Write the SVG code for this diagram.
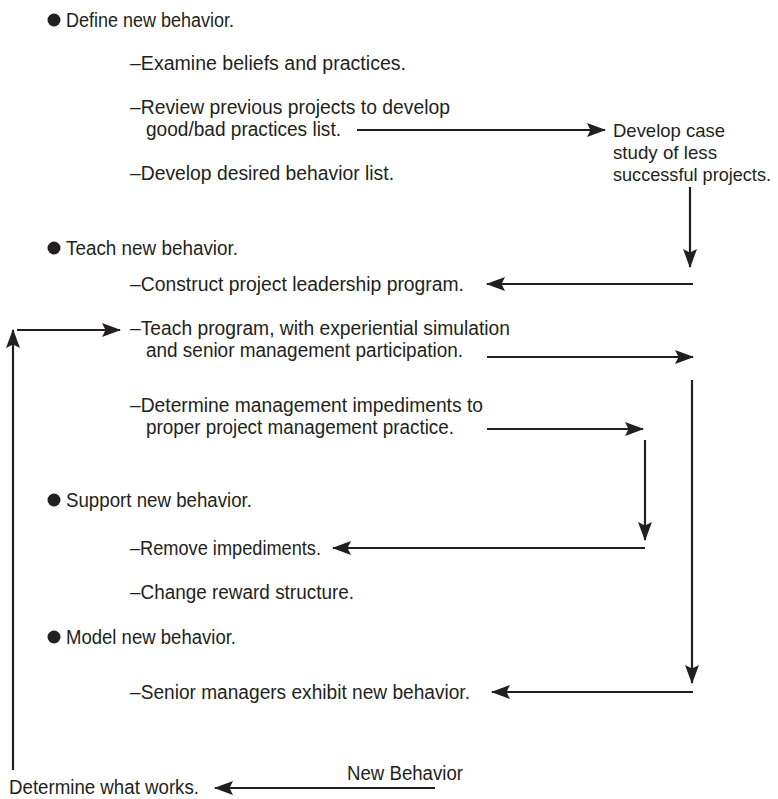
<svg xmlns="http://www.w3.org/2000/svg" width="778" height="799" viewBox="0 0 778 799">
<style>
text{font-family:"Liberation Sans",Arial,sans-serif;font-size:19.5px;fill:#231f20}
.r{font-size:18.4px}
.b{fill:#231f20}
.c line{stroke:#231f20;stroke-width:2.2;marker-end:url(#ah)}
</style>
<defs>
<marker id="ah" markerUnits="userSpaceOnUse" markerWidth="20" markerHeight="16" refX="18" refY="7" orient="auto" viewBox="0 0 20 16">
<path d="M0,0 L19,7 L0,14 L3.5,7 z" fill="#231f20"/>
</marker>
</defs>
<rect width="778" height="799" fill="#fff"/>
<g id="define"><circle class="b" cx="54" cy="20" r="6.5"/><text x="66" y="27" textLength="168" lengthAdjust="spacingAndGlyphs">Define new behavior.</text></g>
<g id="examine"><text x="130" y="70" textLength="276" lengthAdjust="spacingAndGlyphs">–Examine beliefs and practices.</text></g>
<g id="review"><text x="130" y="114" textLength="320" lengthAdjust="spacingAndGlyphs">–Review previous projects to develop</text><text x="146" y="136" textLength="195" lengthAdjust="spacingAndGlyphs">good/bad practices list.</text></g>
<g id="casestudy"><text class="r" x="613" y="137" textLength="112" lengthAdjust="spacingAndGlyphs">Develop case</text><text class="r" x="613" y="159" textLength="104" lengthAdjust="spacingAndGlyphs">study of less</text><text class="r" x="613" y="181" textLength="158" lengthAdjust="spacingAndGlyphs">successful projects.</text></g>
<g id="desired"><text x="130" y="180" textLength="264" lengthAdjust="spacingAndGlyphs">–Develop desired behavior list.</text></g>
<g id="teach"><circle class="b" cx="54" cy="248" r="6.5"/><text x="66" y="255" textLength="172" lengthAdjust="spacingAndGlyphs">Teach new behavior.</text></g>
<g id="construct"><text x="130" y="291" textLength="334" lengthAdjust="spacingAndGlyphs">–Construct project leadership program.</text></g>
<g id="program"><text x="130" y="335" textLength="380" lengthAdjust="spacingAndGlyphs">–Teach program, with experiential simulation</text><text x="146" y="357" textLength="317" lengthAdjust="spacingAndGlyphs">and senior management participation.</text></g>
<g id="impediments"><text x="130" y="412" textLength="353" lengthAdjust="spacingAndGlyphs">–Determine management impediments to</text><text x="146" y="434" textLength="308" lengthAdjust="spacingAndGlyphs">proper project management practice.</text></g>
<g id="support"><circle class="b" cx="54" cy="500" r="6.5"/><text x="66" y="507" textLength="186" lengthAdjust="spacingAndGlyphs">Support new behavior.</text></g>
<g id="remove"><text x="130" y="555" textLength="191" lengthAdjust="spacingAndGlyphs">–Remove impediments.</text></g>
<g id="reward"><text x="130" y="599" textLength="224" lengthAdjust="spacingAndGlyphs">–Change reward structure.</text></g>
<g id="model"><circle class="b" cx="54" cy="637" r="6.5"/><text x="66" y="644" textLength="170" lengthAdjust="spacingAndGlyphs">Model new behavior.</text></g>
<g id="senior"><text x="130" y="699" textLength="340" lengthAdjust="spacingAndGlyphs">–Senior managers exhibit new behavior.</text></g>
<g id="newbehavior"><text x="347" y="780" textLength="116" lengthAdjust="spacingAndGlyphs">New Behavior</text></g>
<g id="works"><text x="9" y="794" textLength="190" lengthAdjust="spacingAndGlyphs">Determine what works.</text></g>
<g id="connectors" class="c">
<line x1="357" y1="130" x2="605" y2="130"/>
<line x1="690" y1="187" x2="690" y2="267"/>
<line x1="693" y1="284" x2="487" y2="284"/>
<line x1="13" y1="770" x2="13" y2="330"/>
<line x1="17" y1="330" x2="120" y2="330"/>
<line x1="487" y1="357" x2="693" y2="357"/>
<line x1="692" y1="380" x2="692" y2="683"/>
<line x1="693" y1="692" x2="492" y2="692"/>
<line x1="487" y1="429" x2="643" y2="429"/>
<line x1="645" y1="440" x2="645" y2="540"/>
<line x1="645" y1="548" x2="333" y2="548"/>
<line x1="435" y1="788" x2="215" y2="788"/>
</g>
</svg>
